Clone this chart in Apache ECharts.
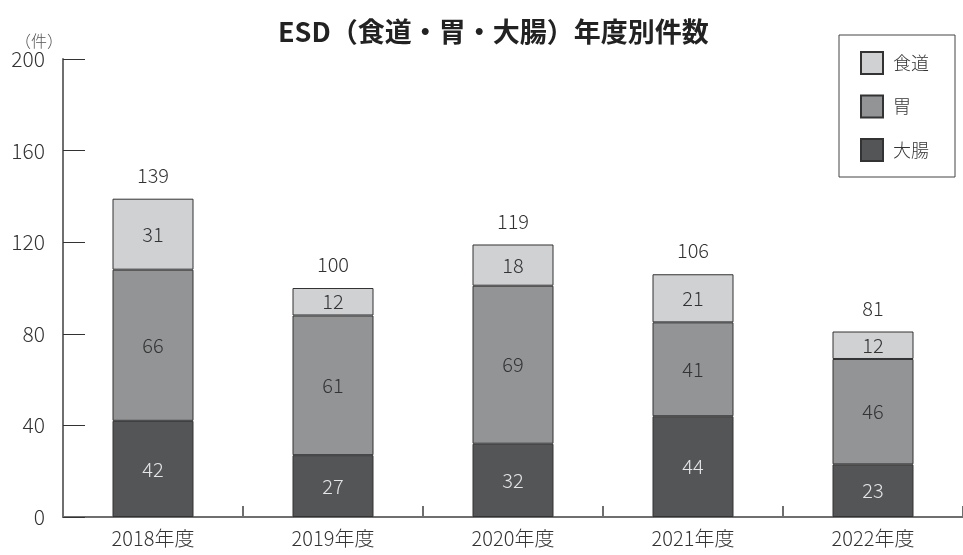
<!DOCTYPE html>
<html>
<head>
<meta charset="utf-8">
<script src="https://cdn.jsdelivr.net/npm/echarts@6/dist/echarts.min.js"></script>
<style>
  html, body { margin: 0; padding: 0; background: #fff; }
  #chart { width: 963px; height: 555px; }
</style>
</head>
<body>
<div id="chart"></div>
<script>
// Fiscal years
const years = ['2018年度', '2019年度', '2020年度', '2021年度', '2022年度'];
// Case counts per organ
const colon = [42, 27, 32, 44, 23];      // 大腸
const stomach = [66, 61, 69, 41, 46];    // 胃
const esophagus = [31, 12, 18, 21, 12];  // 食道
// Totals shown above each stacked bar
const totals = [139, 100, 119, 106, 81];
// Value axis ticks
const yMin = 0, yMax = 200, yStep = 40;

const FONT = '"Noto Sans CJK JP", "Noto Sans", sans-serif';
const LIGHT = 300;
const AXIS = '#6f6f6f';

const chart = echarts.init(document.getElementById('chart'), null, { renderer: 'canvas' });

function barSeries(name, data, color, labelColor) {
  return {
    name: name,
    type: 'bar',
    stack: 'esd',
    data: data,
    barWidth: 81,
    itemStyle: { color: color, borderColor: '#333', borderWidth: 1 },
    label: {
      show: true,
      position: 'inside',
      color: labelColor,
      fontSize: 20,
      fontWeight: LIGHT,
      fontFamily: FONT
    },
    emphasis: { disabled: true }
  };
}

chart.setOption({
  animation: false,
  backgroundColor: '#fff',
  title: {
    text: 'ESD（食道・胃・大腸）年度別件数',
    left: 273,
    top: 13,
    textStyle: { fontSize: 27, fontWeight: 'bold', color: '#222', fontFamily: FONT }
  },
  legend: {
    data: ['食道', '胃', '大腸'],
    orient: 'vertical',
    right: 8,
    top: 35,
    itemWidth: 22,
    itemHeight: 22,
    itemGap: 19.5,
    padding: [16, 26, 15, 21],
    borderColor: '#444',
    borderWidth: 1,
    icon: 'rect',
    textStyle: { fontSize: 18, lineHeight: 22, fontWeight: LIGHT, color: '#333', fontFamily: FONT, padding: [0, 0, 0, 5] }
  },
  grid: { left: 63, right: -5, top: 59, bottom: 38 },
  xAxis: {
    type: 'category',
    data: years,
    axisLine: { lineStyle: { color: AXIS, width: 2 } },
    axisTick: { show: true, inside: true, length: 11, lineStyle: { color: AXIS, width: 2 } },
    axisLabel: { fontSize: 20, fontWeight: LIGHT, color: '#333', fontFamily: FONT, margin: 11 }
  },
  yAxis: {
    type: 'value',
    min: yMin,
    max: yMax,
    interval: yStep,
    name: '（件）',
    nameLocation: 'end',
    nameGap: 8,
    nameTextStyle: { fontSize: 16, fontWeight: LIGHT, color: '#555', fontFamily: FONT, align: 'right', padding: [0, 0, 0, 0] },
    axisLine: { show: true, lineStyle: { color: AXIS, width: 2 } },
    axisTick: { show: true, inside: true, length: 22, lineStyle: { color: '#333', width: 1 } },
    splitLine: { show: false },
    axisLabel: { fontSize: 21, fontWeight: LIGHT, color: '#333', fontFamily: FONT, margin: 18 }
  },
  series: [
    barSeries('大腸', colon, '#545557', '#e6e6e6'),
    barSeries('胃', stomach, '#939496', '#333'),
    barSeries('食道', esophagus, '#d0d1d3', '#333'),
    {
      // invisible line carrying the per-year total labels
      name: '合計',
      type: 'line',
      data: totals,
      symbol: 'circle',
      symbolSize: 1,
      showSymbol: true,
      itemStyle: { color: 'rgba(0,0,0,0)', borderWidth: 0 },
      lineStyle: { color: 'rgba(0,0,0,0)', width: 0 },
      label: {
        show: true,
        position: 'top',
        distance: 13,
        color: '#333',
        fontSize: 20,
        fontWeight: LIGHT,
        fontFamily: FONT
      },
      labelLayout: { hideOverlap: false },
      emphasis: { disabled: true },
      silent: true,
      z: 5
    }
  ]
});
</script>
</body>
</html>
